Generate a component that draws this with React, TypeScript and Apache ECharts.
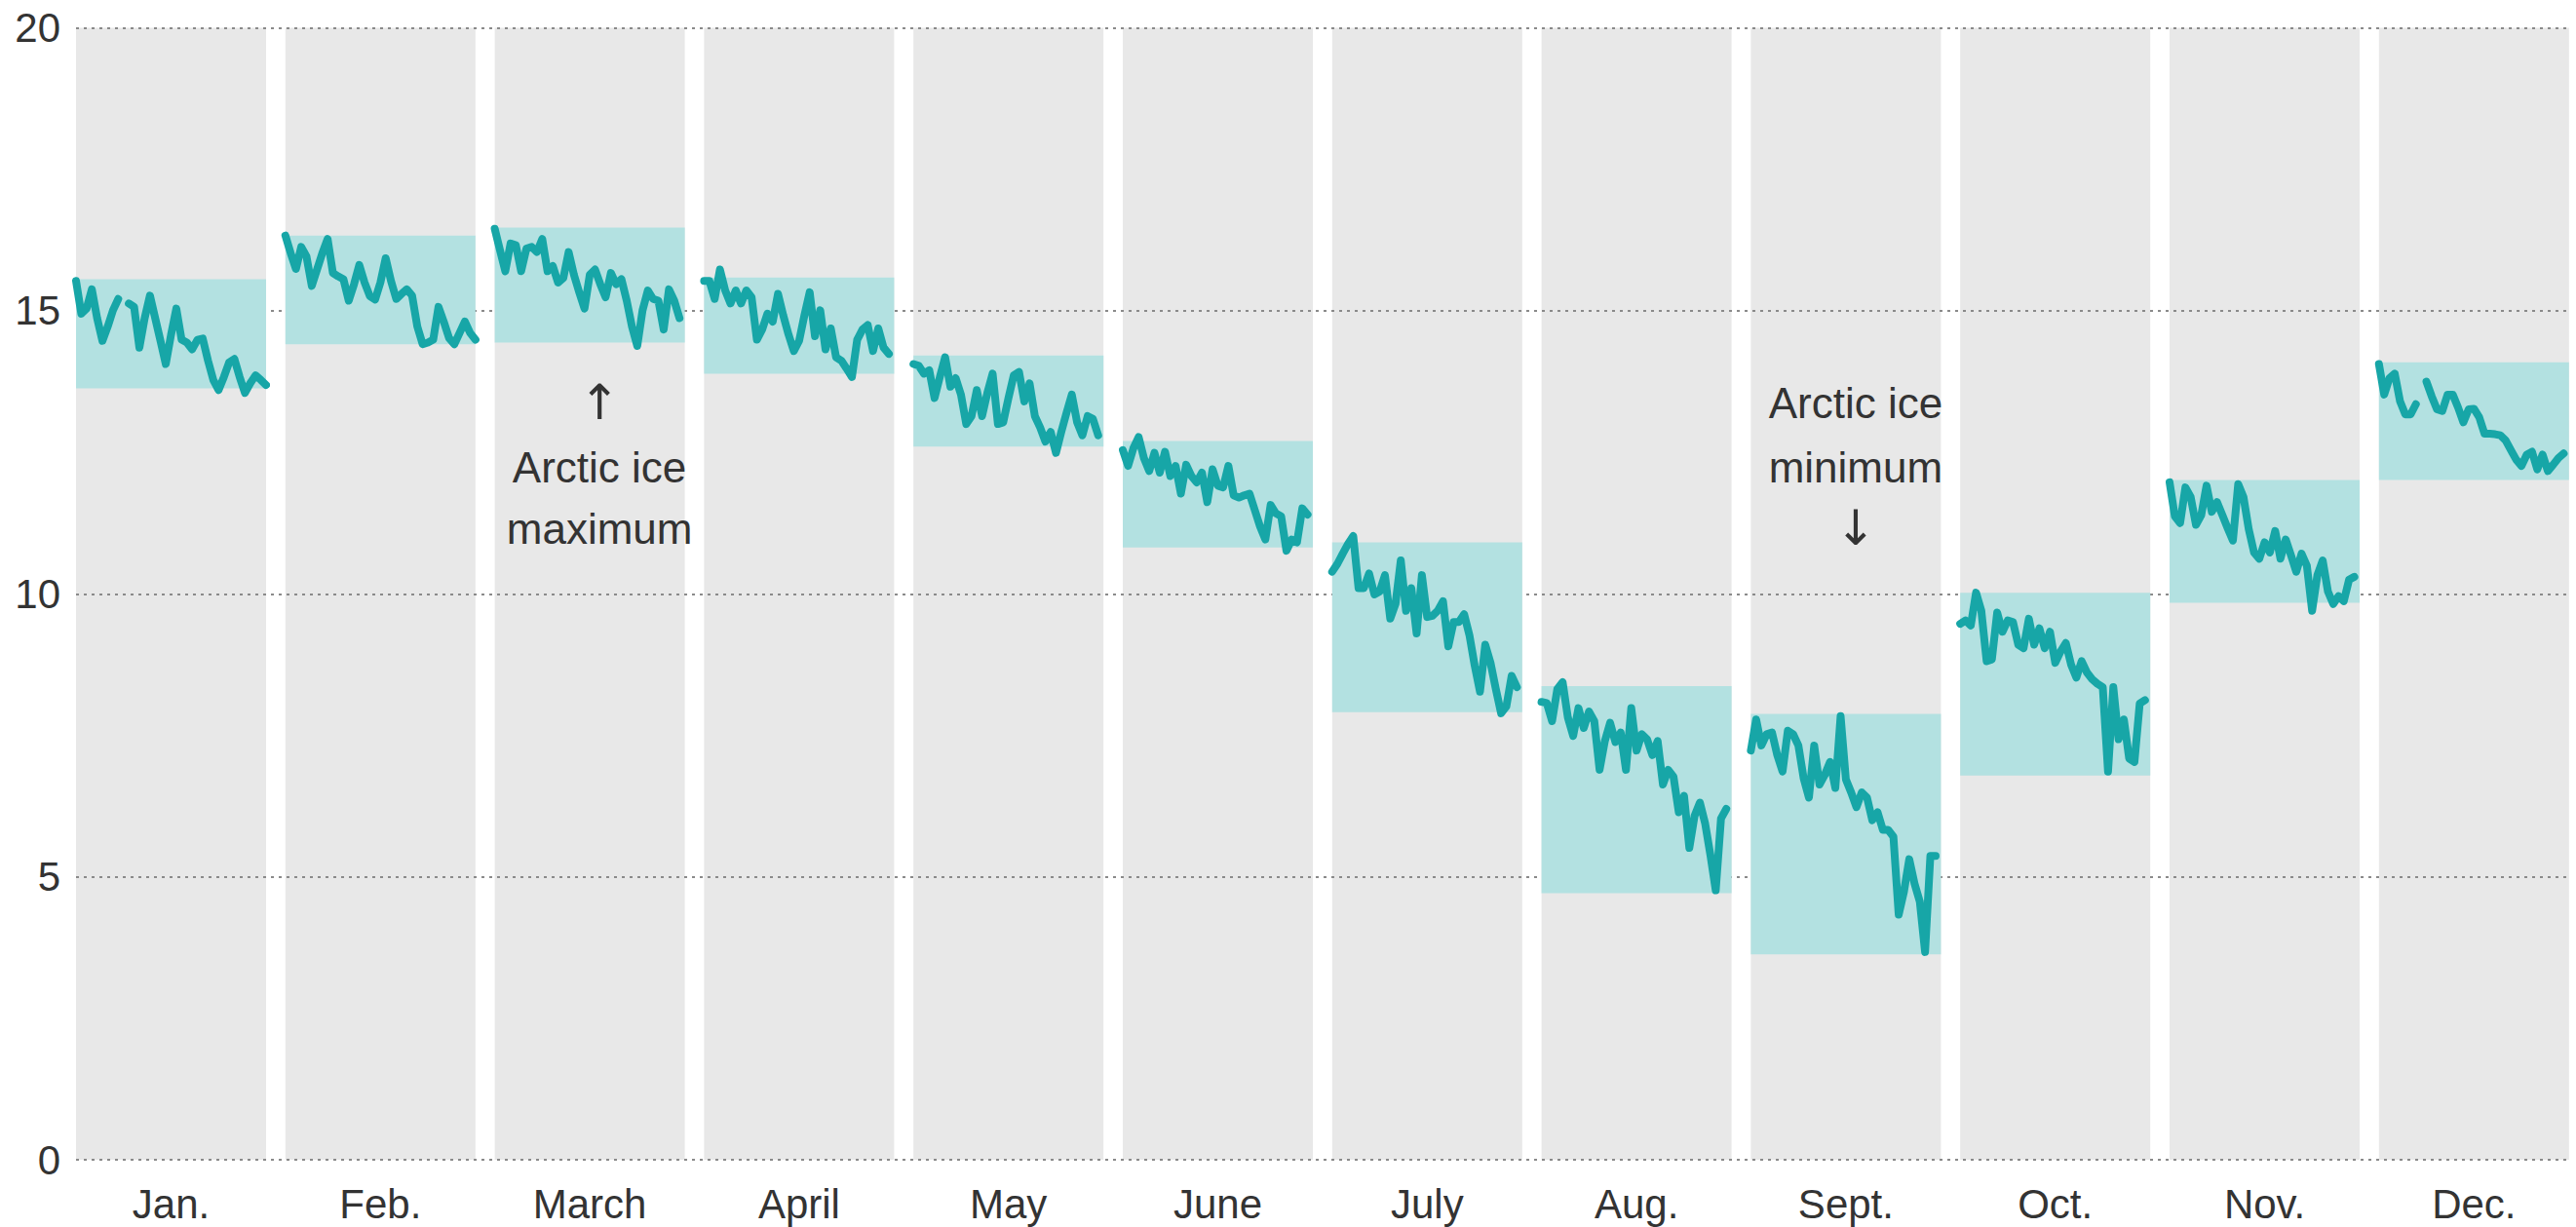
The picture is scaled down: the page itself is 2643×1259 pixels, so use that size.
import React, { useEffect, useRef } from "react";
import * as echarts from "echarts";

const months = ["Jan.", "Feb.", "March", "April", "May", "June", "July", "Aug.", "Sept.", "Oct.", "Nov.", "Dec."];
const years = ["1979","1980","1981","1982","1983","1984","1985","1986","1987","1988","1989","1990","1991","1992","1993","1994","1995","1996","1997","1998","1999","2000","2001","2002","2003","2004","2005","2006","2007","2008","2009","2010","2011","2012","2013","2014","2015"];
const yTicks = [0, 5, 10, 15, 20];

const jan = [15.53,14.95,15.04,15.38,14.87,14.47,14.72,15.01,15.21,null,15.13,15.07,14.35,14.87,15.27,14.87,14.47,14.06,14.58,15.04,14.49,14.44,14.32,14.49,14.51,14.12,13.78,13.6,13.83,14.09,14.15,13.83,13.55,13.72,13.86,13.78,13.69];
const feb = [16.33,16.02,15.74,16.13,15.96,15.44,15.73,16.02,16.27,15.67,15.61,15.56,15.18,15.47,15.81,15.5,15.26,15.2,15.5,15.93,15.53,15.21,15.3,15.38,15.27,14.72,14.41,14.44,14.49,15.07,14.81,14.52,14.41,14.61,14.81,14.61,14.49];
const mar = [16.45,16.07,15.7,16.19,16.16,15.7,16.1,16.13,16.04,16.27,15.7,15.79,15.5,15.58,16.04,15.64,15.33,15.04,15.64,15.73,15.47,15.24,15.67,15.47,15.56,15.18,14.72,14.38,15.01,15.36,15.21,15.18,14.67,15.38,15.18,14.87];
const apr = [15.53,15.53,15.21,15.73,15.36,15.13,15.36,15.13,15.36,15.24,14.49,14.67,14.95,14.81,15.3,14.92,14.58,14.29,14.47,14.92,15.33,14.55,15.01,14.32,14.69,14.18,14.12,13.98,13.83,14.49,14.67,14.75,14.29,14.69,14.35,14.24];
const may = [14.06,14.03,13.89,13.95,13.46,13.83,14.18,13.66,13.81,13.52,13.0,13.14,13.6,13.14,13.55,13.89,13.0,13.03,13.46,13.86,13.92,13.4,13.72,13.14,12.94,12.69,12.86,12.49,12.86,13.2,13.52,13.03,12.8,13.14,13.09,12.8];
const jun = [12.54,12.26,12.57,12.77,12.4,12.17,12.49,12.14,12.51,12.08,12.26,11.77,12.28,12.08,11.97,12.14,11.62,12.2,11.91,11.88,12.26,11.74,11.7,11.74,11.77,11.48,11.19,10.96,11.57,11.42,11.37,10.76,10.96,10.91,11.51,11.4];
const jul = [10.39,10.53,10.71,10.88,11.02,10.1,10.1,10.36,9.99,10.04,10.33,9.56,9.82,10.59,9.7,10.1,9.3,10.33,9.59,9.61,9.7,9.87,9.07,9.5,9.5,9.64,9.27,8.73,8.27,9.1,8.78,8.32,7.89,8.01,8.55,8.35];
const aug = [8.09,8.07,7.75,8.32,8.44,7.81,7.49,7.98,7.63,7.92,7.75,6.89,7.4,7.72,7.38,7.55,6.89,7.98,7.23,7.52,7.43,7.15,7.4,6.63,6.89,6.77,6.14,6.43,5.51,6.08,6.31,5.94,5.38,4.76,6.03,6.2];
const sep = [7.23,7.78,7.32,7.52,7.55,7.15,6.86,7.58,7.52,7.32,6.74,6.4,7.32,6.63,6.8,7.03,6.57,7.84,6.72,6.49,6.23,6.49,6.4,6.0,6.14,5.83,5.83,5.71,4.33,4.74,5.31,4.88,4.56,3.67,5.37,5.37];
const oct = [9.47,9.53,9.44,10.02,9.7,8.81,8.84,9.67,9.33,9.53,9.5,9.1,9.04,9.56,9.1,9.39,9.04,9.33,8.78,8.98,9.13,8.75,8.52,8.81,8.61,8.49,8.41,8.35,6.86,8.35,7.43,7.78,7.09,7.03,8.06,8.12];
const nov = [11.97,11.37,11.25,11.88,11.71,11.22,11.39,11.91,11.45,11.62,11.39,11.16,10.94,11.94,11.71,11.14,10.73,10.62,10.91,10.73,11.11,10.62,10.96,10.68,10.39,10.71,10.5,9.7,10.33,10.59,10.04,9.82,9.96,9.87,10.25,10.3];
const dec = [14.06,13.52,13.81,13.89,13.4,13.17,13.17,13.35,null,13.75,13.49,13.26,13.23,13.52,13.52,13.29,13.03,13.26,13.27,13.12,12.83,12.83,12.82,12.8,12.71,12.54,12.37,12.26,12.46,12.51,12.2,12.46,12.17,12.28,12.4,12.48];
const monthValues = [jan, feb, mar, apr, may, jun, jul, aug, sep, oct, nov, dec];

const bandLow = [13.63, 14.41, 14.44, 13.89, 12.6, 10.82, 7.91, 4.71, 3.63, 6.79, 9.84, 12.01];
const bandHigh = [15.56, 16.33, 16.47, 15.59, 14.21, 12.7, 10.91, 8.37, 7.88, 10.02, 12.01, 14.09];

const annotations = [
  { month: 2, lines: ["\u2191", "Arctic ice", "maximum"] },
  { month: 8, lines: ["Arctic ice", "minimum", "\u2193"] },
];

const FONT = "'Liberation Sans', Arial, sans-serif";
const PANEL_LEFT = 78;
const PANEL_WIDTH = 195;
const PANEL_STEP = 214.8;
const TOP = 28.6;
const HEIGHT = 1161.4;

export default function App() {
  const ref = useRef<HTMLDivElement>(null);
  useEffect(() => {
    if (!ref.current) return;
    const chart = echarts.init(ref.current, null, { renderer: "svg" });
    const grids: any[] = [
      {
        left: PANEL_LEFT,
        top: TOP,
        width: PANEL_STEP * 11 + PANEL_WIDTH,
        height: HEIGHT,
        show: false,
        containLabel: false,
        outerBoundsMode: "none",
      },
    ];
    const xAxes: any[] = [{ gridIndex: 0, type: "value", show: false, min: 0, max: 1 }];
    const yAxes: any[] = [
      {
        gridIndex: 0,
        type: "value",
        min: 0,
        max: 20,
        interval: 5,
        axisLine: { show: false },
        axisTick: { show: false },
        axisLabel: {
          margin: 16,
          fontSize: 42,
          color: "#333",
          fontFamily: FONT,
          formatter: (v: number) => (yTicks.includes(v) ? String(v) : ""),
        },
        splitLine: { show: true, lineStyle: { color: "#8a8a8a", width: 2, type: [3, 5] } },
      },
    ];
    const series: any[] = [];
    months.forEach((m, i) => {
      grids.push({
        left: PANEL_LEFT + PANEL_STEP * i,
        top: TOP,
        width: PANEL_WIDTH,
        height: HEIGHT,
        show: true,
        backgroundColor: "#e8e8e8",
        borderWidth: 0,
        containLabel: false,
        outerBoundsMode: "none",
      });
      xAxes.push({
        gridIndex: i + 1,
        type: "category",
        data: years,
        boundaryGap: false,
        axisLine: { show: false },
        axisTick: { show: false },
        axisLabel: { show: false },
        splitLine: { show: false },
        name: m,
        nameLocation: "middle",
        nameGap: 24,
        nameTextStyle: { fontSize: 42, color: "#333", fontFamily: FONT },
      });
      yAxes.push({ gridIndex: i + 1, type: "value", min: 0, max: 20, show: false });
      series.push({
        type: "line",
        xAxisIndex: i + 1,
        yAxisIndex: i + 1,
        data: monthValues[i],
        showSymbol: false,
        symbol: "none",
        connectNulls: false,
        lineStyle: { color: "#17a6a7", width: 8, join: "round", cap: "round" },
        z: 3,
        markArea: {
          silent: true,
          itemStyle: { color: "#b3e1e1" },
          data: [[{ yAxis: bandLow[i] }, { yAxis: bandHigh[i] }]],
        },
      });
    });
    const graphic: any[] = [];
    const lineYs = [413, 479, 542];
    annotations.forEach((a) => {
      const cx = PANEL_LEFT + PANEL_STEP * a.month + PANEL_WIDTH / 2 + 10;
      a.lines.forEach((t, k) => {
        const isArrow = t.length === 1;
        graphic.push({
          type: "text",
          x: cx,
          y: lineYs[k],
          z: 10,
          style: {
            text: t,
            fill: "#333",
            font: isArrow ? `50px 'DejaVu Sans', sans-serif` : `44px ${FONT}`,
            textAlign: "center",
            align: "center",
            textVerticalAlign: "middle",
            verticalAlign: "middle",
          },
        });
      });
    });
    chart.setOption({
      animation: false,
      backgroundColor: "#ffffff",
      grid: grids,
      xAxis: xAxes,
      yAxis: yAxes,
      series,
      graphic,
    });
    return () => chart.dispose();
  }, []);
  return (
    <div
      ref={ref}
      style={{ position: "fixed", left: 0, top: 0, width: 2643, height: 1259, background: "#fff" }}
    />
  );
}
